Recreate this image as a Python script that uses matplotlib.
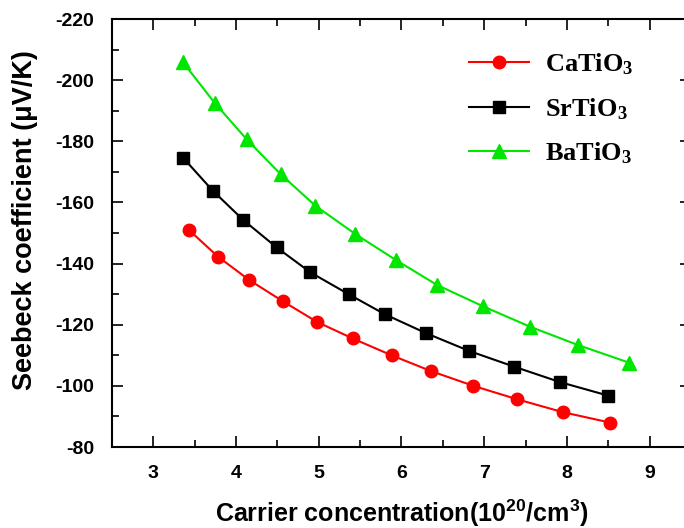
import numpy as np
import matplotlib.pyplot as plt
from matplotlib.ticker import MultipleLocator

plt.rcParams['font.family'] = ['Liberation Sans', 'DejaVu Sans']
plt.rcParams['font.weight'] = 'bold'
plt.rcParams['mathtext.default'] = 'regular'
plt.rcParams['axes.unicode_minus'] = False

# Seebeck coefficient vs carrier concentration (10^20 cm^-3)
n_ca = [3.43, 3.78, 4.16, 4.57, 4.98, 5.41, 5.88, 6.36, 6.87, 7.40, 7.95, 8.52]
s_ca = [-151.0, -142.3, -134.6, -127.6, -120.9, -115.5, -110.0, -104.8, -100.0, -95.6, -91.4, -88.0]

n_sr = [3.36, 3.72, 4.09, 4.49, 4.90, 5.36, 5.80, 6.30, 6.82, 7.36, 7.92, 8.50]
s_sr = [-174.6, -163.8, -154.2, -145.3, -137.1, -130.0, -123.4, -117.2, -111.4, -106.3, -101.2, -96.8]

n_ba = [3.36, 3.74, 4.13, 4.54, 4.96, 5.44, 5.93, 6.43, 6.98, 7.55, 8.13, 8.75]
s_ba = [-205.8, -192.6, -180.6, -169.2, -158.9, -149.7, -141.2, -133.0, -126.1, -119.4, -113.4, -107.6]

fig = plt.figure(figsize=(6.84, 5.28), dpi=100)
ax = fig.add_axes([0.1637, 0.1534, 0.8465, 0.8106])

ax.plot(n_ca, s_ca, '-o', color='#ff0000', lw=1.5, ms=9, label='CaTiO$_3$')
ax.plot(n_sr, s_sr, '-s', color='black', lw=1.5, ms=9, label='SrTiO$_3$')
ax.plot(n_ba, s_ba, '-^', color='#00e600', lw=1.5, ms=10, label='BaTiO$_3$')

ax.set_xlim(2.5, 9.5)
ax.set_ylim(-80, -220)
ax.xaxis.set_major_locator(MultipleLocator(1))
ax.xaxis.set_minor_locator(MultipleLocator(0.5))
ax.yaxis.set_major_locator(MultipleLocator(20))
ax.yaxis.set_minor_locator(MultipleLocator(10))

for s in ax.spines.values():
    s.set_linewidth(1.5)
ax.tick_params(which='both', direction='in', top=True, right=True, width=1.2)
ax.tick_params(which='major', length=8, labelsize=14)
ax.tick_params(which='minor', length=5)
ax.tick_params(axis='y', pad=13)
ax.tick_params(axis='x', pad=13)

ax.set_xlabel('Carrier concentration(10$^{20}$/cm$^3$)', fontsize=18,
              fontweight='bold', labelpad=11)
ax.set_ylabel('Seebeck coefficient (\u03bcV/K)', fontsize=19.5,
              fontweight='bold')
ax.yaxis.set_label_coords(-0.127, 0.53)

leg = ax.legend(loc='upper left', bbox_to_anchor=(0.575, 0.98), frameon=False,
                handlelength=2.3, handletextpad=0.6, labelspacing=0.72,
                prop={'family': 'Liberation Serif', 'weight': 'bold', 'size': 19})

fig.savefig('out.png', dpi=100)
